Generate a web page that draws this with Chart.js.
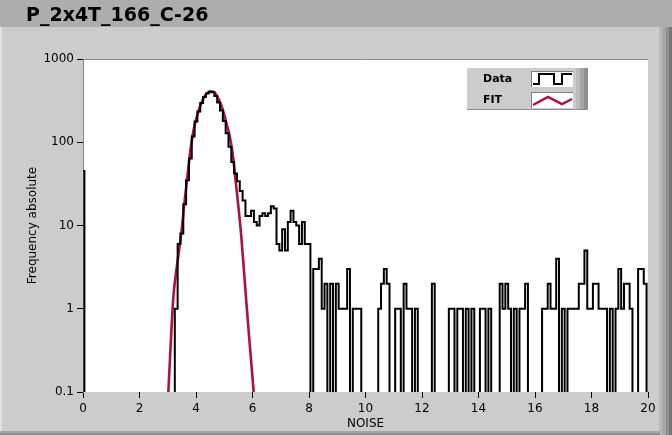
<!DOCTYPE html>
<html>
<head>
<meta charset="utf-8">
<title>P_2x4T_166_C-26</title>
<script src="https://cdn.jsdelivr.net/npm/chart.js@4.4.1/dist/chart.umd.min.js"></script>
<style>
  html, body { margin: 0; padding: 0; background: #cccccc; }
  #chart { display: block; }
</style>
</head>
<body>
<canvas id="chart" width="672" height="435"></canvas>
<script>
// Histogram: bins of 0.1 starting at 0 (bin centres), counts
const binStart = 0;
const binWidth = 0.1;
const counts = [
  45, 0, 0, 0, 0, 0, 0, 0, 0, 0,
  0, 0, 0, 0, 0, 0, 0, 0, 0, 0,
  0, 0, 0, 0, 0, 0, 0, 0, 0, 0,
  0, 0, 0, 1, 6, 8, 18, 35, 64, 117,
  178, 234, 296, 350, 385, 405, 400, 360, 300, 240,
  180, 128, 88, 58, 42, 34, 26, 20, 13, 13,
  15, 11, 10, 13, 14, 13, 14, 17, 16, 6,
  5, 9, 5, 11, 15, 11, 10, 6, 11, 6,
  6, 0, 3, 3, 4, 1, 2, 0, 2, 0,
  2, 1, 1, 1, 3, 0, 1, 1, 1, 0,
  0, 0, 0, 0, 0, 1, 2, 3, 2, 0,
  0, 1, 1, 0, 2, 1, 1, 0, 1, 0,
  0, 0, 0, 0, 2, 0, 0, 0, 0, 0,
  1, 1, 0, 1, 1, 0, 1, 0, 1, 0,
  0, 1, 1, 0, 1, 0, 0, 0, 2, 1,
  2, 1, 0, 1, 0, 1, 1, 2, 0, 0,
  0, 0, 0, 1, 1, 2, 1, 1, 4, 0,
  1, 0, 1, 1, 1, 1, 2, 2, 5, 1,
  1, 2, 2, 1, 1, 1, 0, 1, 0, 1,
  3, 1, 2, 2, 1, 0, 0, 3, 3, 2,
  0
];

// Fit curve, points
const fitX = [3.0, 3.1, 3.2, 3.3, 3.4, 3.5, 3.6, 3.7, 3.8, 3.9,
              4.0, 4.1, 4.2, 4.3, 4.4, 4.5, 4.6, 4.7, 4.8, 4.9,
              5.0, 5.1, 5.2, 5.3, 5.4, 5.5, 5.6, 5.7, 5.8, 5.9,
              6.0, 6.1];
const fitY = [0.07, 0.35, 1.4, 2.8, 5.0, 9.3, 20, 40, 79, 132,
              186, 245, 302, 355, 389, 407, 407, 380, 331, 275,
              214, 158, 115, 72, 35, 17, 7.6, 2.8, 1.0, 0.38,
              0.15, 0.056];

// Axes
const xTicks = [0, 2, 4, 6, 8, 10, 12, 14, 16, 18, 20];
const yTicks = [0.1, 1, 10, 100, 1000];
const yTickLabels = ['0.1', '1', '10', '100', '1000'];

const chartTitle = 'P_2x4T_166_C-26';
const legendItems = ['Data', 'FIT'];

const FONT = 'DejaVu Sans';
const FIT_COLOR = '#b0103e';

// empty bins are sent below the axis so the line drops out of the plot
const histPoints = counts.map((c, i) => ({
  x: binStart + i * binWidth,
  y: c > 0 ? c : 0.01
}));
const fitPoints = fitX.map((x, i) => ({ x: x, y: fitY[i] }));

// Panel, plot background, title and legend
const panel = {
  id: 'panel',
  beforeDraw(chart) {
    const c = chart.ctx;
    const a = chart.chartArea;
    c.save();
    c.fillStyle = '#cccccc';
    c.fillRect(0, 0, 672, 435);
    c.fillStyle = '#adadad';
    c.fillRect(0, 0, 672, 27);
    // raised border right / bottom
    const bands = ['#b9b9b9', '#a5a5a5', '#8e8e8e', '#767676'];
    bands.forEach((col, i) => {
      c.fillStyle = col;
      c.fillRect(659 + i * 3.25, 27, 3.25, 408);
    });
    c.fillStyle = '#a5a5a5';
    c.fillRect(0, 431, 660, 2);
    c.fillStyle = '#8e8e8e';
    c.fillRect(0, 433, 660, 2);
    c.fillStyle = '#e2e2e2';
    c.fillRect(0, 27, 2, 404);
    // plot area
    c.fillStyle = '#ffffff';
    c.fillRect(a.left, a.top, a.right - a.left, a.bottom - a.top);
    c.strokeStyle = '#888888';
    c.lineWidth = 1;
    c.beginPath();
    c.moveTo(a.left, a.top + 0.5);
    c.lineTo(a.right, a.top + 0.5);
    c.stroke();
    c.restore();
  },
  afterDraw(chart) {
    const c = chart.ctx;
    c.save();
    c.fillStyle = '#000';
    c.font = 'bold 19px "' + FONT + '"';
    c.textBaseline = 'alphabetic';
    c.fillText(chartTitle, 26, 21);

    // legend box
    c.fillStyle = '#cccccc';
    c.fillRect(467, 68, 121, 42);
    c.fillStyle = '#bcbcbc';
    c.fillRect(576, 68, 4, 42);
    c.fillStyle = '#a6a6a6';
    c.fillRect(580, 68, 4, 42);
    c.fillStyle = '#8e8e8e';
    c.fillRect(584, 68, 4, 42);
    c.fillRect(467, 109, 121, 1);

    c.font = 'bold 11px "' + FONT + '"';
    c.textBaseline = 'middle';
    c.fillStyle = '#000';
    c.fillText(legendItems[0], 483, 79);
    c.fillText(legendItems[1], 483, 100);

    // sample boxes
    [[531, 71], [531, 92]].forEach(([bx, by]) => {
      c.fillStyle = '#ffffff';
      c.fillRect(bx, by, 42, 16);
      c.fillStyle = '#808080';
      c.fillRect(bx, by, 42, 1);
      c.fillRect(bx, by, 1, 16);
    });
    c.lineJoin = 'miter';
    c.strokeStyle = '#000';
    c.lineWidth = 2;
    c.beginPath();
    c.moveTo(533, 84); c.lineTo(539, 84); c.lineTo(539, 74);
    c.lineTo(554, 74); c.lineTo(554, 84); c.lineTo(562, 84);
    c.lineTo(562, 74); c.lineTo(572, 74);
    c.stroke();
    c.strokeStyle = FIT_COLOR;
    c.lineWidth = 2.5;
    c.beginPath();
    c.moveTo(533, 105); c.lineTo(548, 97); c.lineTo(562, 104); c.lineTo(572, 99);
    c.stroke();
    c.restore();
  }
};

const ctx = document.getElementById('chart');

new Chart(ctx, {
  type: 'line',
  data: {
    datasets: [{
      label: 'Data',
      data: histPoints,
      borderColor: '#000000',
      borderWidth: 2,
      stepped: 'middle',
      pointRadius: 0,
      clip: 0,
      order: 0
    }, {
      label: 'FIT',
      data: fitPoints,
      borderColor: FIT_COLOR,
      borderWidth: 2.6,
      cubicInterpolationMode: 'monotone',
      pointRadius: 0,
      clip: 0,
      order: 1
    }]
  },
  options: {
    responsive: false,
    animation: false,
    devicePixelRatio: 1,
    layout: { padding: { left: 0, top: 59, right: 24, bottom: 0 } },
    plugins: {
      legend: { display: false },
      tooltip: { enabled: false }
    },
    scales: {
      x: {
        type: 'linear',
        min: 0,
        max: 20,
        afterBuildTicks: s => { s.ticks = xTicks.map(v => ({ value: v })); },
        afterFit: s => { s.height = 43; },
        ticks: {
          callback: v => String(v),
          autoSkip: false,
          maxRotation: 0,
          padding: 4,
          color: '#000',
          font: { family: FONT, size: 12 }
        },
        grid: { drawOnChartArea: false, drawTicks: true, tickLength: 6, tickColor: '#000' },
        border: { display: false },
        title: {
          display: true,
          text: 'NOISE',
          color: '#000',
          font: { family: FONT, size: 12 },
          padding: { top: 0, bottom: 4 }
        }
      },
      y: {
        type: 'logarithmic',
        min: 0.1,
        max: 1000,
        afterBuildTicks: s => { s.ticks = yTicks.map(v => ({ value: v, major: true })); },
        afterFit: s => { s.width = 83; },
        ticks: {
          callback: (v, i) => yTickLabels[i],
          autoSkip: false,
          padding: 3,
          color: '#000',
          font: { family: FONT, size: 12 }
        },
        grid: { drawOnChartArea: false, drawTicks: true, tickLength: 6, tickColor: '#000' },
        border: { display: true, color: '#888888', width: 1 },
        title: {
          display: true,
          text: 'Frequency absolute',
          color: '#000',
          font: { family: FONT, size: 12 },
          padding: { top: 26, bottom: 0 }
        }
      }
    }
  },
  plugins: [panel]
});
</script>
</body>
</html>
